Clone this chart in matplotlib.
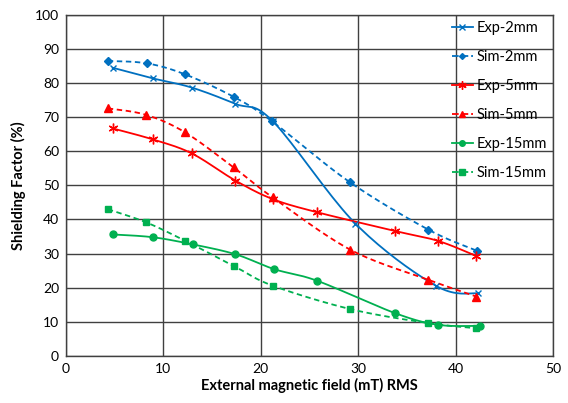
import numpy as np
import matplotlib.pyplot as plt

# data
x_exp2 = [4.8, 8.9, 12.9, 17.4, 21.2, 29.7, 38.0, 42.3]
y_exp2 = [84.5, 81.4, 78.7, 73.9, 68.9, 38.8, 20.5, 18.3]
x_sim2 = [4.3, 8.3, 12.2, 17.2, 21.1, 29.1, 37.2, 42.2]
y_sim2 = [86.5, 85.8, 82.6, 76.0, 68.9, 51.0, 37.0, 30.8]
x_exp5 = [4.8, 8.9, 12.9, 17.4, 21.2, 25.8, 33.8, 38.2, 42.1]
y_exp5 = [66.7, 63.5, 59.4, 51.4, 46.0, 42.1, 36.6, 33.7, 29.3]
x_sim5 = [4.3, 8.2, 12.2, 17.2, 21.2, 29.2, 37.2, 42.1]
y_sim5 = [72.6, 70.7, 65.6, 55.3, 46.5, 31.1, 22.3, 17.4]
x_exp15 = [4.8, 8.9, 13.0, 17.4, 21.4, 25.8, 33.8, 38.2, 42.5]
y_exp15 = [35.6, 34.8, 32.7, 29.8, 25.4, 22.0, 12.5, 9.1, 8.8]
x_sim15 = [4.3, 8.2, 12.2, 17.2, 21.2, 29.2, 37.2, 42.1]
y_sim15 = [43.0, 39.2, 33.8, 26.4, 20.6, 13.7, 9.6, 8.1]

blue = '#0070C0'
red = '#FF0000'
green = '#00B050'


# smooth curve through the points (Excel-style smoothed line)
def smooth(x, y, n=20):
    x = np.asarray(x, float)
    y = np.asarray(y, float)
    p = np.column_stack([x, y])
    pts = [p[0]] + list(p) + [p[-1]]
    out = []
    for i in range(1, len(pts) - 2):
        p0, p1, p2, p3 = pts[i - 1], pts[i], pts[i + 1], pts[i + 2]
        c1 = p1 + (p2 - p0) / 6
        c2 = p2 - (p3 - p1) / 6
        t = np.linspace(0, 1, n)[:, None]
        seg = (1 - t) ** 3 * p1 + 3 * (1 - t) ** 2 * t * c1 + 3 * (1 - t) * t ** 2 * c2 + t ** 3 * p2
        out.append(seg if i == 1 else seg[1:])
    s = np.vstack(out)
    return s[:, 0], s[:, 1]


plt.rcParams['font.family'] = ['Lato', 'DejaVu Sans']
fig = plt.figure(figsize=(5.68, 4.03), dpi=100)
ax = fig.add_axes([0.116, 0.117, 0.858, 0.846])

series = [
    (x_exp2, y_exp2, blue, '-', 'x', 5, 'Exp-2mm'),
    (x_sim2, y_sim2, blue, '--', 'D', 4, 'Sim-2mm'),
    (x_exp5, y_exp5, red, '-', (6, 2, 0), 7, 'Exp-5mm'),
    (x_sim5, y_sim5, red, '--', '^', 6, 'Sim-5mm'),
    (x_exp15, y_exp15, green, '-', 'o', 5, 'Exp-15mm'),
    (x_sim15, y_sim15, green, '--', 's', 5, 'Sim-15mm'),
]
for xs, ys, c, ls, m, ms, lab in series:
    sx, sy = smooth(xs, ys)
    ax.plot(sx, sy, color=c, ls=ls, lw=1.3, dashes=(3, 2) if ls == '--' else (None, None), zorder=3)
    ax.plot(xs, ys, color=c, ls='none', marker=m, ms=ms, mew=1.0, zorder=4)
    ax.plot([], [], color=c, ls=ls, lw=1.3, marker=m, ms=ms - 1, label=lab)

ax.set_xlim(0, 50)
ax.set_ylim(0, 100)
ax.set_xticks(range(0, 51, 10))
ax.set_yticks(range(0, 101, 10))
ax.grid(True, color='#404040', lw=1.0)
ax.set_axisbelow(True)
for s in ax.spines.values():
    s.set_color('#404040')
    s.set_linewidth(1.0)
ax.tick_params(length=0, labelsize=10, pad=5)
ax.set_xlabel('External magnetic field (mT) RMS', fontsize=10.5, fontweight='bold', labelpad=2)
ax.set_ylabel('Shielding Factor (%)', fontsize=10.5, fontweight='bold', labelpad=6)

ax.legend(loc='upper right', frameon=False, fontsize=10.5, handlelength=1.5,
          handletextpad=0.2, labelspacing=1.02, borderaxespad=0.05,
          bbox_to_anchor=(1.0, 1.0))

fig.savefig('out.png', dpi=100)
